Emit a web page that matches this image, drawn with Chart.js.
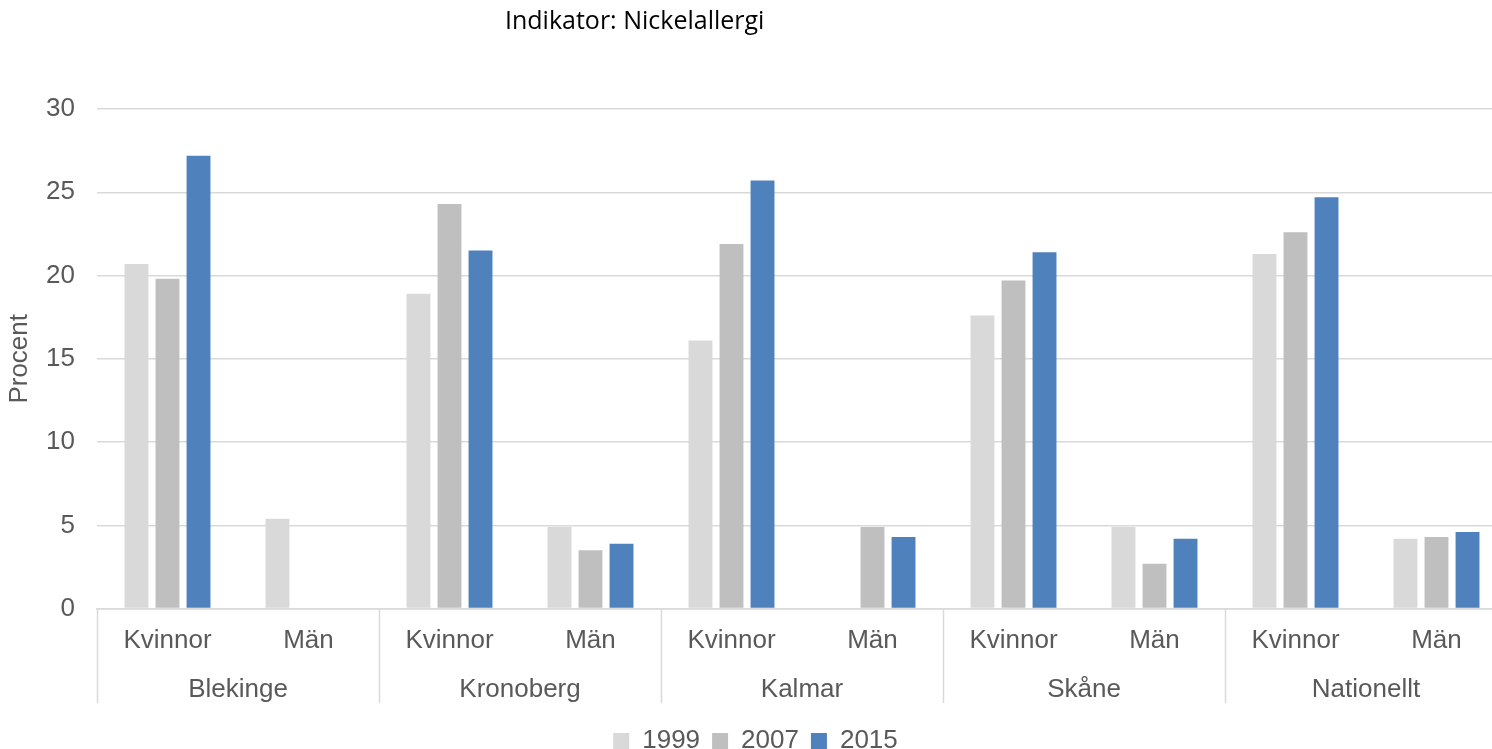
<!doctype html>
<html lang="sv">
<head>
<meta charset="utf-8">
<title>Indikator: Nickelallergi</title>
<script src="https://cdn.jsdelivr.net/npm/chart.js"></script>
<style>
  body { margin: 0; overflow: hidden; background: #fff; }
  #wrap { width: 1510px; height: 764px; position: relative; }
</style>
</head>
<body>
<div id="wrap"><canvas id="chart"></canvas></div>
<script>
  const regions = ['Blekinge', 'Kronoberg', 'Kalmar', 'Skåne', 'Nationellt'];
  const sexes = ['Kvinnor', 'Män'];
  const years = ['1999', '2007', '2015'];

  // one value per (region, sex), null = no bar
  const v1999 = [20.7, 5.4, 18.9, 4.9, 16.1, null, 17.6, 4.9, 21.3, 4.2];
  const v2007 = [19.8, null, 24.3, 3.5, 21.9, 4.9, 19.7, 2.7, 22.6, 4.3];
  const v2015 = [27.2, null, 21.5, 3.9, 25.7, 4.3, 21.4, 4.2, 24.7, 4.6];

  const yTicks = [0, 5, 10, 15, 20, 25, 30];

  const colors = ['#d9d9d9', '#bfbfbf', '#4f81bd'];
  const labels = [];
  regions.forEach(() => sexes.forEach(s => labels.push(s)));

  const textColor = '#595959';
  const font = "'Liberation Sans', Arial, sans-serif";
  const extraBelow = 11;

  const titlePlugin = {
    id: 'topTitle',
    afterDraw(chart) {
      const c = chart.ctx;
      c.save();
      c.font = "25px 'Open Sans', sans-serif";
      c.fillStyle = '#000';
      c.textBaseline = 'middle';
      c.fillText('Indikator: Nickelallergi', 505, 22);
      c.restore();
    }
  };

  // vertical separators between the region groups
  const groupLines = {
    id: 'groupLines',
    afterDraw(chart) {
      const x2 = chart.scales.x2;
      const c = chart.ctx;
      const top = chart.chartArea.bottom;
      const bottom = x2.bottom - 13;
      const step = (x2.right - x2.left) / regions.length;
      c.save();
      c.strokeStyle = '#d9d9d9';
      c.lineWidth = 1.5;
      for (let i = 0; i <= regions.length; i++) {
        const x = Math.round(x2.left + i * step) + 0.5;
        c.beginPath();
        c.moveTo(x, top);
        c.lineTo(x, bottom);
        c.stroke();
      }
      c.restore();
    }
  };

  new Chart(document.getElementById('chart'), {
    type: 'bar',
    data: {
      labels: labels,
      datasets: [v1999, v2007, v2015].map((d, i) => ({
        label: years[i],
        data: d,
        backgroundColor: colors[i],
        barPercentage: 0.77,
        categoryPercentage: 0.66
      }))
    },
    options: {
      responsive: true,
      maintainAspectRatio: false,
      animation: false,
      layout: { padding: { top: 109, left: 4, right: 3, bottom: 0 } },
      scales: {
        x: {
          grid: { display: false },
          border: { color: '#d9d9d9', width: 1.5 },
          ticks: { color: textColor, font: { family: font, size: 26 }, padding: 9, maxRotation: 0 }
        },
        x2: {
          type: 'category',
          labels: regions,
          position: 'bottom',
          offset: true,
          grid: { display: false },
          border: { display: false },
          ticks: { color: textColor, font: { family: font, size: 26 }, padding: 0 },
          afterFit(axis) { axis.height += extraBelow; }
        },
        y: {
          min: 0,
          max: 30,
          afterBuildTicks(axis) { axis.ticks = yTicks.map(v => ({ value: v })); },
          afterFit(axis) { axis.width = 93; },
          grid: { color: '#d9d9d9', lineWidth: 1.5, drawTicks: false },
          border: { display: false },
          ticks: { color: textColor, font: { family: font, size: 26 }, padding: 22 },
          title: { display: true, text: 'Procent', color: textColor, font: { family: font, size: 26 }, padding: { top: 0, bottom: 0 } }
        }
      },
      plugins: {
        legend: {
          position: 'bottom',
          labels: { color: textColor, font: { family: font, size: 26 }, boxWidth: 16, boxHeight: 16, padding: 12 }
        },
        tooltip: { enabled: false }
      }
    },
    plugins: [titlePlugin, groupLines]
  });
</script>
</body>
</html>
